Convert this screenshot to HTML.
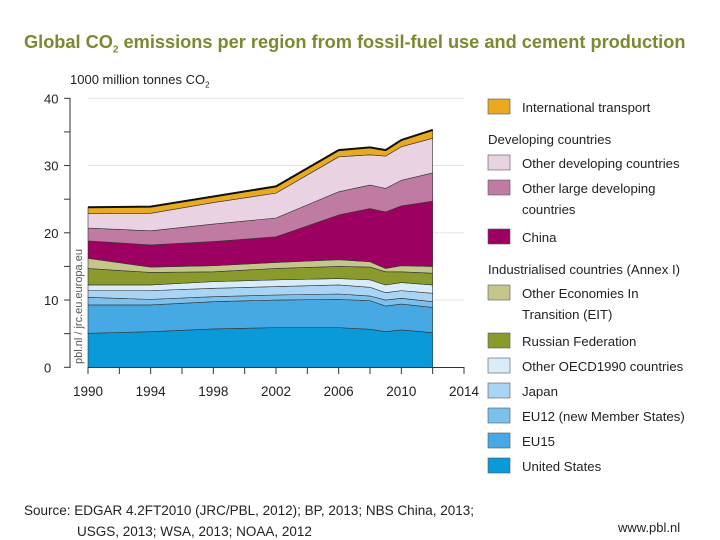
<!DOCTYPE html>
<html><head><meta charset="utf-8"><style>
body{margin:0;background:#fff;font-family:"Liberation Sans",sans-serif;}
#wrap{position:relative;width:720px;height:540px;overflow:hidden;}
.t{position:absolute;white-space:nowrap;color:#222;}
</style></head><body>
<div id="wrap">
<div class="t" style="left:24px;top:32px;font-size:18.2px;font-weight:bold;color:#7a8a30;">Global CO<sub style="font-size:10px">2</sub> emissions per region from fossil-fuel use and cement production</div>
<div class="t" style="left:70px;top:72px;font-size:13px;">1000 million tonnes CO<sub style="font-size:8px">2</sub></div>
<svg id="chart" width="720" height="540" style="position:absolute;left:0;top:0"></svg>
<div class="t" style="left:24px;top:500px;font-size:13.5px;line-height:21px;">Source: EDGAR 4.2FT2010 (JRC/PBL, 2012); BP, 2013; NBS China, 2013;<br><span style="padding-left:53px">USGS, 2013; WSA, 2013; NOAA, 2012</span></div>
<div class="t" style="left:618px;top:520px;font-size:13px;">www.pbl.nl</div>
</div>
<script>
const years=[1990,1994,1998,2002,2006,2008,2009,2010,2012];
const usVals=[5.06,5.3,5.7,5.9,5.9,5.65,5.3,5.55,5.15];
const eu15Vals=[4.21,3.97,4.06,4.1,4.2,4.25,3.8,3.85,3.75];
const eu12Vals=[1.13,0.83,0.74,0.75,0.8,0.7,0.9,0.86,0.86];
const japanVals=[1.0,1.3,1.25,1.25,1.34,1.3,1.1,1.14,1.24];
const oecdVals=[0.84,0.84,0.99,1.0,0.96,1.1,1.14,1.2,1.24];
const russiaVals=[2.46,1.86,1.46,1.7,1.8,1.9,1.96,1.6,1.76];
const eitVals=[1.5,0.8,0.9,0.9,1.0,0.8,0.5,0.9,1.0];
const chinaVals=[2.6,3.3,3.6,3.8,6.65,7.9,8.4,8.9,9.7];
const largeDevVals=[1.9,2.1,2.6,2.8,3.45,3.5,3.5,3.8,4.2];
const otherDevVals=[2.2,2.6,3.2,3.7,5.2,4.5,4.8,5.0,5.15];
const transportVals=[0.9,1.0,0.9,1.0,1.0,1.1,0.9,1.0,1.25];
const yTicks=[0,10,20,30,40];
const xTicks=[1990,1994,1998,2002,2006,2010,2014];

const NS="http://www.w3.org/2000/svg";
const svg=document.getElementById('chart');
const X=y=>88+(y-1990)*(464-88)/24;
const Y=v=>367.3-v*(367.3-98.3)/40;
function mk(t,a,p){const e=document.createElementNS(NS,t);for(const k in a)e.setAttribute(k,a[k]);(p||svg).appendChild(e);return e;}

for(let v=10;v<=40;v+=10){const g=mk('line',{x1:88,x2:464,y1:Y(v),y2:Y(v),stroke:'#e4e4e4','stroke-width':1});

}
const series=[
['united-states',usVals,'#0a9ad9'],['eu15',eu15Vals,'#46a9e4'],['eu12',eu12Vals,'#7cc0ec'],
['japan',japanVals,'#a9d4f3'],['other-oecd1990',oecdVals,'#d8ecf9'],['russian-federation',russiaVals,'#8a9a2c'],
['other-eit',eitVals,'#c6c68c'],['china',chinaVals,'#9c0061'],['other-large-developing',largeDevVals,'#c07ba2'],
['other-developing',otherDevVals,'#e9d2e2'],['international-transport',transportVals,'#e9aa22']];
let base=years.map(()=>0);
series.forEach(([name,vals,col])=>{
  const top=base.map((b,i)=>b+vals[i]);
  let d='M'+years.map((y,i)=>X(y)+','+Y(top[i])).join('L');
  d+='L'+years.map((y,i)=>[X(y),Y(base[i])]).reverse().map(p=>p.join(',')).join('L')+'Z';
  const p=mk('path',{d:d,fill:col,stroke:'#333','stroke-width':0.6,'stroke-linejoin':'round'});
  
  
  base=top;
});
const outline=mk('path',{d:'M'+years.map((y,i)=>X(y)+','+Y(base[i])).join('L'),fill:'none',stroke:'#111','stroke-width':2});



const ya=mk('line',{x1:70,x2:70,y1:98,y2:368,stroke:'#333','stroke-width':1});


for(let v=0;v<=40;v+=5){mk('line',{x1:64,x2:70,y1:Y(v),y2:Y(v),stroke:'#333','stroke-width':1});}
yTicks.forEach(v=>{const t=mk('text',{x:44,y:Y(v)+5,'font-size':13,fill:'#222','font-family':'Liberation Sans'});t.textContent=v;

});
const xa=mk('line',{x1:88,x2:464,y1:367.5,y2:367.5,stroke:'#333','stroke-width':1});


for(let y=1990;y<=2014;y+=2){mk('line',{x1:X(y),x2:X(y),y1:367,y2:374,stroke:'#333','stroke-width':1});}
xTicks.forEach(y=>{const t=mk('text',{x:X(y),y:396,'font-size':13.5,fill:'#222','text-anchor':'middle','font-family':'Liberation Sans'});t.textContent=y;

});
const wm=mk('text',{x:0,y:0,'font-size':11,fill:'#555',transform:'translate(82,364) rotate(-90)','font-family':'Liberation Sans'});
wm.textContent='pbl.nl / jrc.eu.europa.eu';



const legend=[
['box','#e9aa22','International transport',107],
['head',null,'Developing countries',139],
['box','#e9d2e2','Other developing countries',163],
['box','#c07ba2','Other large developing',188],
['cont',null,'countries',209],
['box','#9c0061','China',237],
['head',null,'Industrialised countries (Annex I)',269],
['box','#c6c68c','Other Economies In',293],
['cont',null,'Transition (EIT)',314],
['box','#8a9a2c','Russian Federation',341],
['box','#d8ecf9','Other OECD1990 countries',366],
['box','#a9d4f3','Japan',391],
['box','#7cc0ec','EU12 (new Member States)',416],
['box','#46a9e4','EU15',441],
['box','#0a9ad9','United States',466]];
legend.forEach(([k,c,txt,y])=>{
  if(k==='box'){const r=mk('rect',{x:488,y:y-8,width:22,height:15,fill:c,stroke:'#555','stroke-width':0.6});
  
  }
  const t=mk('text',{x:k==='head'?488:522,y:y+5,'font-size':13.2,fill:'#222','font-family':'Liberation Sans'});
  t.textContent=txt;
  
  
});
</script>
</body></html>
